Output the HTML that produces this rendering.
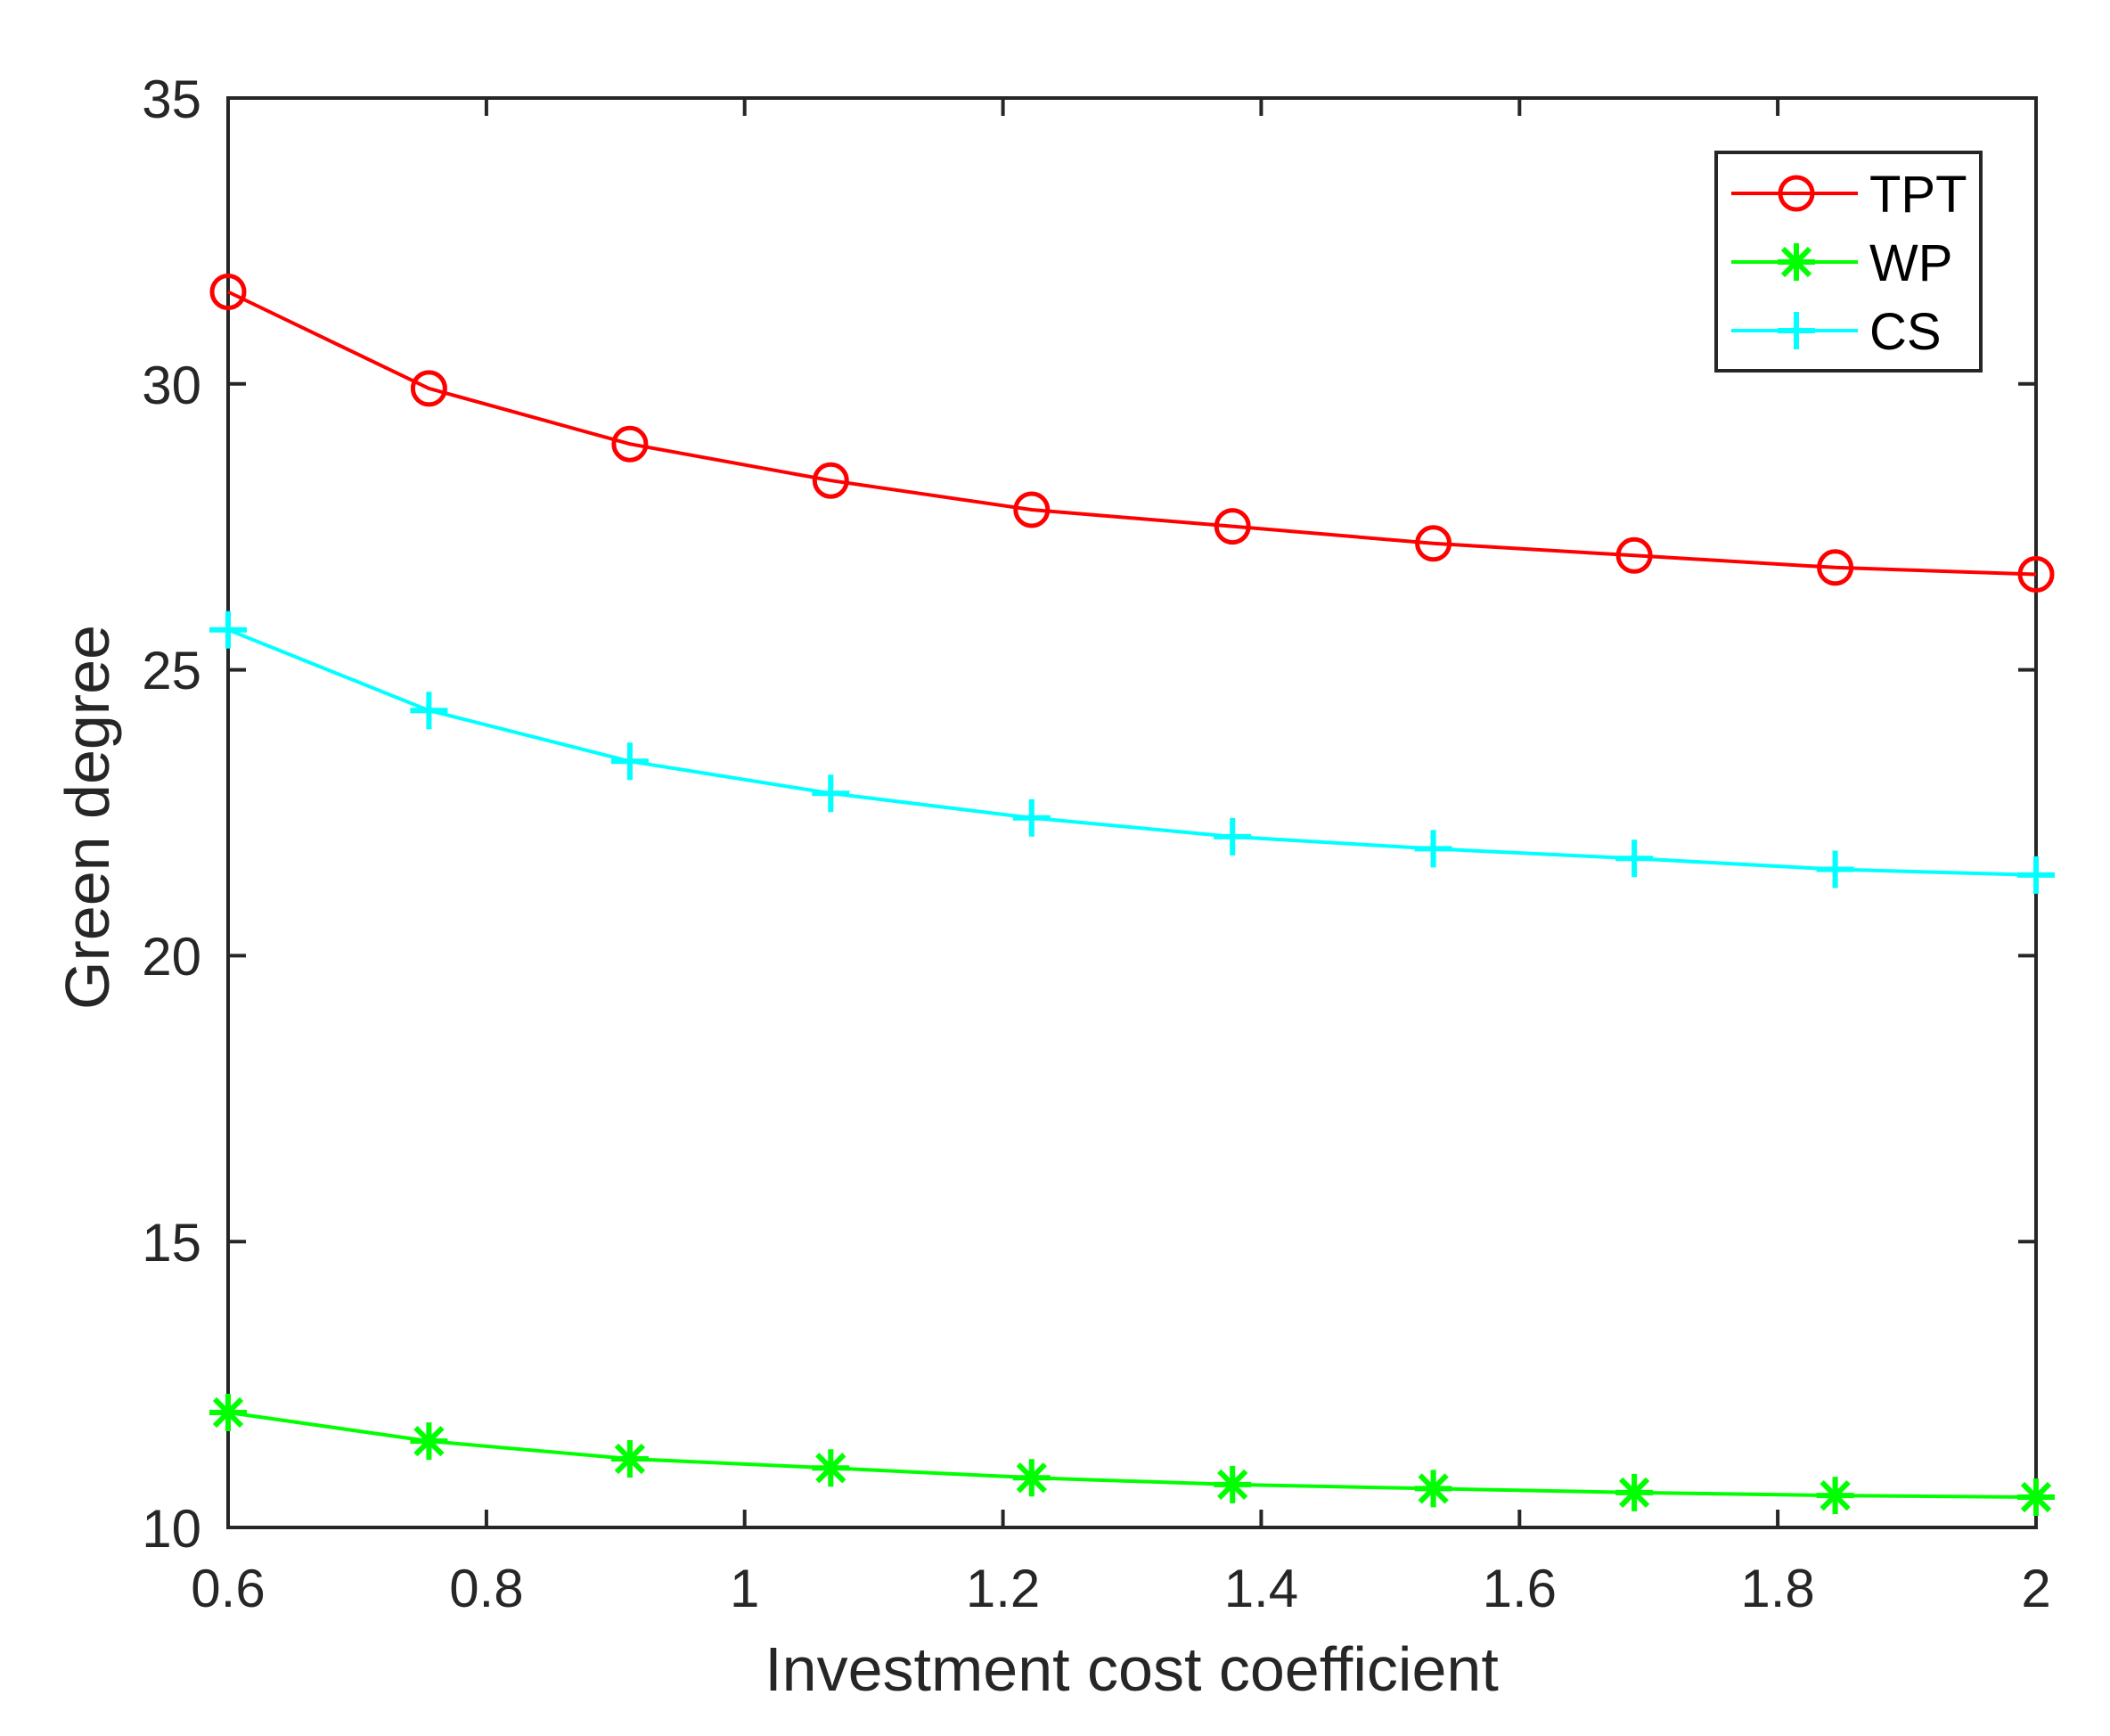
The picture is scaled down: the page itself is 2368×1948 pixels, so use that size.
<!DOCTYPE html>
<html><head><meta charset="utf-8"><style>
html,body{margin:0;padding:0;background:#fff;}
svg{display:block;}
text{font-family:"Liberation Sans",Arial,sans-serif;fill:#262626;}
</style></head><body>
<svg width="2368" height="1948" viewBox="0 0 2368 1948" xmlns="http://www.w3.org/2000/svg">
<defs>
<g id="c"><circle cx="0" cy="0" r="18" fill="none" stroke="#f00" stroke-width="5"/></g>
<g id="s" stroke="#00ff00" stroke-width="6"><line x1="-21" y1="0" x2="21" y2="0"/><line x1="0" y1="-21" x2="0" y2="21"/><line x1="-15" y1="-15" x2="15" y2="15"/><line x1="-15" y1="15" x2="15" y2="-15"/></g>
<g id="p" stroke="#00ffff" stroke-width="6"><line x1="-21" y1="0" x2="21" y2="0"/><line x1="0" y1="-21" x2="0" y2="21"/></g>
</defs>
<rect width="2368" height="1948" fill="#fff"/>
<rect x="256" y="110" width="2029" height="1604" fill="none" stroke="#262626" stroke-width="4"/>
<g stroke="#262626" stroke-width="4">
<line x1="545.9" y1="1714" x2="545.9" y2="1694"/><line x1="545.9" y1="110" x2="545.9" y2="130"/>
<line x1="835.7" y1="1714" x2="835.7" y2="1694"/><line x1="835.7" y1="110" x2="835.7" y2="130"/>
<line x1="1125.6" y1="1714" x2="1125.6" y2="1694"/><line x1="1125.6" y1="110" x2="1125.6" y2="130"/>
<line x1="1415.4" y1="1714" x2="1415.4" y2="1694"/><line x1="1415.4" y1="110" x2="1415.4" y2="130"/>
<line x1="1705.3" y1="1714" x2="1705.3" y2="1694"/><line x1="1705.3" y1="110" x2="1705.3" y2="130"/>
<line x1="1995.1" y1="1714" x2="1995.1" y2="1694"/><line x1="1995.1" y1="110" x2="1995.1" y2="130"/>
<line x1="256" y1="1393.2" x2="276" y2="1393.2"/><line x1="2285" y1="1393.2" x2="2265" y2="1393.2"/>
<line x1="256" y1="1072.4" x2="276" y2="1072.4"/><line x1="2285" y1="1072.4" x2="2265" y2="1072.4"/>
<line x1="256" y1="751.6" x2="276" y2="751.6"/><line x1="2285" y1="751.6" x2="2265" y2="751.6"/>
<line x1="256" y1="430.8" x2="276" y2="430.8"/><line x1="2285" y1="430.8" x2="2265" y2="430.8"/>
</g>
<g font-size="60" text-anchor="middle">
<text x="256" y="1803">0.6</text><text x="545.9" y="1803">0.8</text><text x="835.7" y="1803">1</text>
<text x="1125.6" y="1803">1.2</text><text x="1415.4" y="1803">1.4</text><text x="1705.3" y="1803">1.6</text>
<text x="1995.1" y="1803">1.8</text><text x="2285" y="1803">2</text>
</g>
<g font-size="60" text-anchor="end">
<text x="226" y="1736">10</text><text x="226" y="1415">15</text><text x="226" y="1094">20</text>
<text x="226" y="773">25</text><text x="226" y="453">30</text><text x="226" y="132">35</text>
</g>
<text x="1270" y="1897" font-size="70" text-anchor="middle">Investment cost coefficient</text>
<text transform="translate(122,917) rotate(-90)" font-size="70" text-anchor="middle">Green degree</text>

<polyline fill="none" stroke="#f00" stroke-width="4" points="256,327.5 481.4,435.9 706.9,498.2 932.3,539.2 1157.8,572 1383.2,590.6 1608.6,609.8 1834.1,623.3 2059.6,636.8 2285,644.5"/>
<polyline fill="none" stroke="#00ff00" stroke-width="4" points="256,1585 481.4,1617.1 706.9,1637 932.3,1647.3 1157.8,1658.2 1383.2,1665.9 1608.6,1670.4 1834.1,1674.9 2059.6,1678.1 2285,1680"/>
<polyline fill="none" stroke="#00ffff" stroke-width="4" points="256,706.7 481.4,797.2 706.9,854.3 932.3,890.2 1157.8,917.8 1383.2,938.9 1608.6,952.4 1834.1,963.3 2059.6,975.5 2285,981.9"/>

<use href="#c" x="256" y="327.5"/><use href="#c" x="481.4" y="435.9"/><use href="#c" x="706.9" y="498.2"/><use href="#c" x="932.3" y="539.2"/><use href="#c" x="1157.8" y="572"/><use href="#c" x="1383.2" y="590.6"/><use href="#c" x="1608.6" y="609.8"/><use href="#c" x="1834.1" y="623.3"/><use href="#c" x="2059.6" y="636.8"/><use href="#c" x="2285" y="644.5"/>
<use href="#s" x="256" y="1585"/><use href="#s" x="481.4" y="1617.1"/><use href="#s" x="706.9" y="1637"/><use href="#s" x="932.3" y="1647.3"/><use href="#s" x="1157.8" y="1658.2"/><use href="#s" x="1383.2" y="1665.9"/><use href="#s" x="1608.6" y="1670.4"/><use href="#s" x="1834.1" y="1674.9"/><use href="#s" x="2059.6" y="1678.1"/><use href="#s" x="2285" y="1680"/>
<use href="#p" x="256" y="706.7"/><use href="#p" x="481.4" y="797.2"/><use href="#p" x="706.9" y="854.3"/><use href="#p" x="932.3" y="890.2"/><use href="#p" x="1157.8" y="917.8"/><use href="#p" x="1383.2" y="938.9"/><use href="#p" x="1608.6" y="952.4"/><use href="#p" x="1834.1" y="963.3"/><use href="#p" x="2059.6" y="975.5"/><use href="#p" x="2285" y="981.9"/>

<rect x="1926" y="171" width="297" height="245" fill="#fff" stroke="#262626" stroke-width="4"/>
<line x1="1943" y1="217" x2="2085" y2="217" stroke="#f00" stroke-width="4"/><use href="#c" x="2016" y="217"/>
<line x1="1943" y1="294" x2="2085" y2="294" stroke="#00ff00" stroke-width="4"/><use href="#s" x="2016" y="294"/>
<line x1="1943" y1="371" x2="2085" y2="371" stroke="#00ffff" stroke-width="4"/><use href="#p" x="2016" y="371"/>
<g font-size="58">
<text x="2098" y="238" style="fill:#000">TPT</text>
<text x="2098" y="315" style="fill:#000">WP</text>
<text x="2098" y="392" style="fill:#000">CS</text>
</g>
</svg>
</body></html>
